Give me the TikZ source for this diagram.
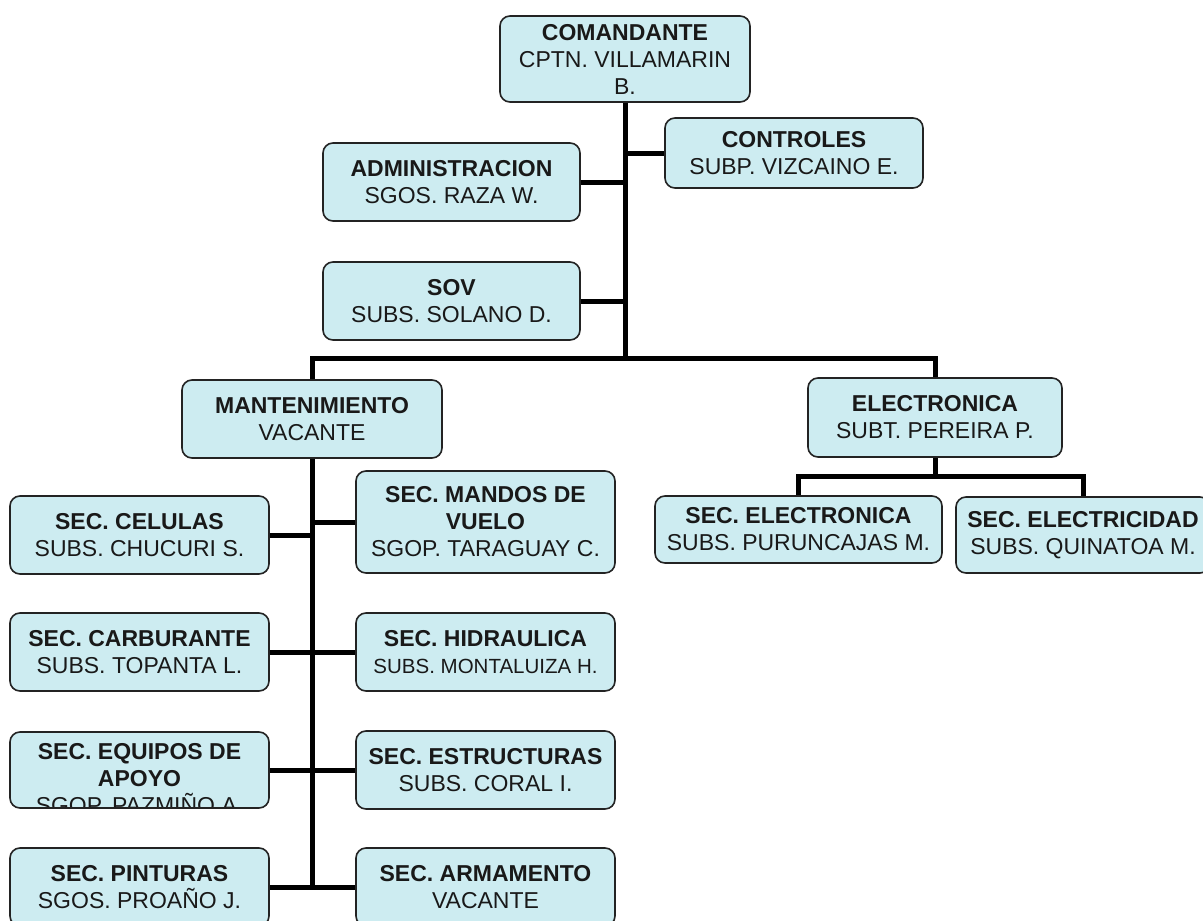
\documentclass[tikz,border=0pt]{standalone}
\usepackage{fontspec}
\setmainfont{Liberation Sans}
\definecolor{boxfill}{RGB}{205,236,241}
\definecolor{boxline}{RGB}{35,35,35}
\definecolor{ink}{RGB}{25,25,25}
\newcommand{\orgfont}{\fontsize{23}{27}\selectfont}
\begin{document}
\begin{tikzpicture}[x=1pt,y=-1pt,
	unit/.style={draw=boxline,fill=boxfill,line width=1.6pt,rounded corners=10pt,inner sep=0pt,align=center,font=\orgfont,text=ink,minimum width=259pt,minimum height=78pt},
	link/.style={line width=5pt,line join=miter}]
	\fill[white] (0,0) rectangle (1203,921);
	\useasboundingbox (0,0) rectangle (1203,921);
	% mando
	\node[unit,minimum width=250pt,minimum height=86pt] (cmd) at (625,59) {\textbf{COMANDANTE}\\CPTN. VILLAMARIN\\B.};
	\node[unit,minimum width=258pt,minimum height=70pt] (ctrl) at (794,153) {\textbf{CONTROLES}\\SUBP. VIZCAINO E.};
	\node[unit,minimum width=257pt] (adm) at (451.5,182) {\textbf{ADMINISTRACION}\\SGOS. RAZA W.};
	\node[unit,minimum width=257pt] (sov) at (451.5,301) {\textbf{SOV}\\SUBS. SOLANO D.};
	\coordinate (fork) at (625,358);
	% departamentos
	\node[unit,minimum width=260pt] (mant) at (312,419) {\textbf{MANTENIMIENTO}\\VACANTE};
	\node[unit,minimum width=254pt,minimum height=79pt] (elec) at (935,417.5) {\textbf{ELECTRONICA}\\SUBT. PEREIRA P.};
	\node[unit,minimum width=287pt,minimum height=67pt] (secelec) at (798.5,529.5) {\textbf{SEC. ELECTRONICA}\\SUBS. PURUNCAJAS M.};
	\node[unit,minimum width=254pt,minimum height=76pt] (secelect) at (1083,535) {\textbf{SEC. ELECTRICIDAD}\\SUBS. QUINATOA M.};
	\coordinate (split) at (935,476);
	% secciones
	\node[unit] (celulas) at (139.5,535) {\textbf{SEC. CELULAS}\\SUBS. CHUCURI S.};
	\node[unit,minimum height=102pt] (mandos) at (485.5,522) {\textbf{SEC. MANDOS DE}\\\textbf{VUELO}\\SGOP. TARAGUAY C.};
	\node[unit] (carb) at (139.5,652) {\textbf{SEC. CARBURANTE}\\SUBS. TOPANTA L.};
	\node[unit] (hidr) at (485.5,652) {\textbf{SEC. HIDRAULICA}\\{\fontsize{20.5}{27}\selectfont SUBS. MONTALUIZA H.}};
	\node[unit,minimum height=76pt,path picture={\node[align=center,font=\orgfont,text=ink,inner sep=0pt] at ([yshift=-9pt]path picture bounding box.center) {\textbf{SEC. EQUIPOS DE}\\\textbf{APOYO}\\SGOP. PAZMIÑO A.};}] (equipos) at (139.5,770) {};
	\node[unit] (estr) at (485.5,770) {\textbf{SEC. ESTRUCTURAS}\\SUBS. CORAL I.};
	\node[unit] (pint) at (139.5,887) {\textbf{SEC. PINTURAS}\\SGOS. PROAÑO J.};
	\node[unit] (arm) at (485.5,887) {\textbf{SEC. ARMAMENTO}\\VACANTE};
	% lineas
	\draw[link] (cmd.south) -- (fork);
	\draw[link] (ctrl.west) -- (ctrl.west -| fork);
	\draw[link] (adm.east) -- (adm.east -| fork);
	\draw[link] (sov.east) -- (sov.east -| fork);
	\draw[link] (mant.north) |- (fork) -| (elec.north);
	\draw[link] (elec.south) -- (split);
	\draw[link] (secelec.north) |- (split) -| (secelect.north);
	\draw[link] (mant.south) -- ([yshift=-2.5pt]mant.south |- pint.east);
	\foreach \n in {celulas,carb,equipos,pint}
		\draw[link] (\n.east) -- (\n.east -| mant.south);
	\foreach \n in {mandos,hidr,estr,arm}
		\draw[link] (\n.west) -- (\n.west -| mant.south);
\end{tikzpicture}
\end{document}
